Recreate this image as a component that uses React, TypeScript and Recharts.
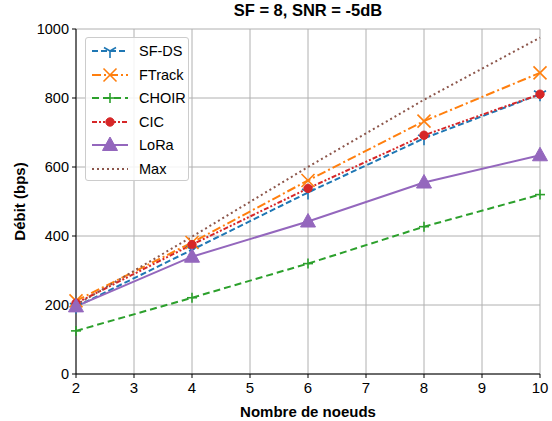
import React from 'react';
import { LineChart, Line, XAxis, YAxis, CartesianGrid } from 'recharts';

const nodes = [2, 4, 6, 8, 10];
const sfds = [195, 360, 526, 683, 811];
const ftrack = [212, 381, 561, 733, 873];
const choir = [125, 221, 320, 427, 520];
const cic = [205, 375, 538, 692, 811];
const lora = [196, 340, 442, 555, 634];
const maxRate = [200, 398, 600, 795, 975];

const xTicks = [2, 3, 4, 5, 6, 7, 8, 9, 10];
const yTicks = [0, 200, 400, 600, 800, 1000];

const data = nodes.map((n, i) => ({
  n,
  sfds: sfds[i],
  ftrack: ftrack[i],
  choir: choir[i],
  cic: cic[i],
  lora: lora[i],
  max: maxRate[i],
}));

type Shape = 'tri' | 'x' | 'plus' | 'circle' | 'triangle' | 'none';

const series: { key: string; name: string; color: string; dash?: string; shape: Shape }[] = [
  { key: 'sfds', name: 'SF-DS', color: '#1f77b4', dash: '6 3', shape: 'tri' },
  { key: 'ftrack', name: 'FTrack', color: '#ff7f0e', dash: '9 3 2 3', shape: 'x' },
  { key: 'choir', name: 'CHOIR', color: '#2ca02c', dash: '7 4', shape: 'plus' },
  { key: 'cic', name: 'CIC', color: '#d62728', dash: '5 2 2 2 2 2', shape: 'circle' },
  { key: 'lora', name: 'LoRa', color: '#9467bd', shape: 'triangle' },
  { key: 'max', name: 'Max', color: '#8c564b', dash: '2 3', shape: 'none' },
];

const FONT = '"Liberation Sans", Arial, sans-serif';

const Marker = ({ shape, color, cx, cy }: { shape: Shape; color: string; cx: number; cy: number }) => {
  switch (shape) {
    case 'tri':
      return (
        <g stroke={color} strokeWidth={1.6} fill="none">
          <line x1={cx} y1={cy} x2={cx} y2={cy + 7} />
          <line x1={cx} y1={cy} x2={cx - 6} y2={cy - 3.5} />
          <line x1={cx} y1={cy} x2={cx + 6} y2={cy - 3.5} />
        </g>
      );
    case 'x':
      return (
        <g stroke={color} strokeWidth={1.6}>
          <line x1={cx - 6.5} y1={cy - 6.5} x2={cx + 6.5} y2={cy + 6.5} />
          <line x1={cx - 6.5} y1={cy + 6.5} x2={cx + 6.5} y2={cy - 6.5} />
        </g>
      );
    case 'plus':
      return (
        <g stroke={color} strokeWidth={1.6}>
          <line x1={cx - 5} y1={cy} x2={cx + 5} y2={cy} />
          <line x1={cx} y1={cy - 5} x2={cx} y2={cy + 5} />
        </g>
      );
    case 'circle':
      return <circle cx={cx} cy={cy} r={4.2} fill={color} stroke={color} />;
    case 'triangle':
      return (
        <polygon
          points={`${cx},${cy - 8} ${cx - 7.5},${cy + 5.5} ${cx + 7.5},${cy + 5.5}`}
          fill={color}
          stroke={color}
        />
      );
    default:
      return null;
  }
};

const makeDot = (shape: Shape, color: string) => (props: any) => {
  const { cx, cy, index } = props;
  if (shape === 'none' || cx == null || cy == null) return <g key={`d-${index}`} />;
  return (
    <g key={`d-${index}`}>
      <Marker shape={shape} color={color} cx={cx} cy={cy} />
    </g>
  );
};

const LegendBox = () => (
  <div
    style={{
      position: 'absolute',
      left: 85,
      top: 37,
      width: 104,
      height: 144,
      background: 'rgba(255,255,255,0.85)',
      border: '1px solid #cccccc',
      borderRadius: 3,
      boxSizing: 'border-box',
      fontFamily: FONT,
      fontSize: 14.5,
      color: '#000',
    }}
  >
    {series.map((s, i) => (
      <div
        key={s.key}
        style={{ position: 'absolute', left: 5, top: 4 + i * 23.5, height: 18, display: 'flex', alignItems: 'center' }}
      >
        <svg width={38} height={18}>
          <line x1={1} y1={9} x2={37} y2={9} stroke={s.color} strokeWidth={2} strokeDasharray={s.dash} />
          <Marker shape={s.shape} color={s.color} cx={19} cy={9} />
        </svg>
        <span style={{ marginLeft: 10 }}>{s.name}</span>
      </div>
    ))}
  </div>
);

export default function App() {
  return (
    <div style={{ position: 'fixed', left: 0, top: 0, width: 552, height: 421, background: '#fff' }}>
      <div
        style={{
          position: 'absolute',
          left: 76,
          width: 464,
          top: 1,
          textAlign: 'center',
          fontFamily: FONT,
          fontWeight: 'bold',
          fontSize: 16.5,
        }}
      >
        SF = 8, SNR = -5dB
      </div>
      <LineChart
        width={552}
        height={421}
        data={data}
        margin={{ top: 29, right: 12, left: 0, bottom: 0 }}
        style={{ fontFamily: FONT }}
      >
        <CartesianGrid stroke="#b0b0b0" strokeWidth={1} vertical horizontal />
        <XAxis
          dataKey="n"
          type="number"
          domain={[2, 10]}
          ticks={xTicks}
          interval={0}
          height={47}
          tickSize={4}
          tickMargin={4}
          axisLine={{ stroke: '#000' }}
          tickLine={{ stroke: '#000' }}
          tick={{ fill: '#000', fontSize: 15 }}
          label={{
            value: 'Nombre de noeuds',
            position: 'insideBottom',
            offset: 4,
            fill: '#000',
            fontSize: 15,
            fontWeight: 'bold',
          }}
        />
        <XAxis
          xAxisId="top"
          dataKey="n"
          type="number"
          domain={[2, 10]}
          orientation="top"
          height={0}
          tick={false}
          tickLine={false}
          axisLine={{ stroke: '#000' }}
        />
        <YAxis
          type="number"
          domain={[0, 1000]}
          ticks={yTicks}
          interval={0}
          width={76}
          tickSize={4}
          tickMargin={3}
          axisLine={{ stroke: '#000' }}
          tickLine={{ stroke: '#000' }}
          tick={{ fill: '#000', fontSize: 14.5 }}
          label={{
            value: 'Débit (bps)',
            angle: -90,
            position: 'insideLeft',
            offset: 20,
            style: { textAnchor: 'middle' },
            fill: '#000',
            fontSize: 15,
            fontWeight: 'bold',
          }}
        />
        <YAxis
          yAxisId="right"
          type="number"
          domain={[0, 1000]}
          orientation="right"
          width={0}
          tick={false}
          tickLine={false}
          axisLine={{ stroke: '#000' }}
        />
        {series.map((s) => (
          <Line
            key={s.key}
            dataKey={s.key}
            name={s.name}
            stroke={s.color}
            strokeWidth={2}
            strokeDasharray={s.dash}
            dot={makeDot(s.shape, s.color)}
            activeDot={false}
            isAnimationActive={false}
            type="linear"
          />
        ))}
      </LineChart>
      <LegendBox />
    </div>
  );
}
